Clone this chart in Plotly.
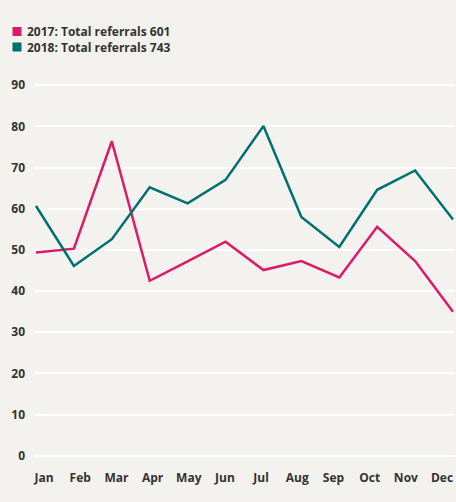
import plotly.graph_objects as go

months = ["Jan", "Feb", "Mar", "Apr", "May", "Jun", "Jul", "Aug", "Sep", "Oct", "Nov", "Dec"]
referrals_2017 = [49.4, 50.3, 76.4, 42.5, 47.2, 52.0, 45.1, 47.3, 43.3, 55.6, 47.3, 35.0]
referrals_2018 = [60.7, 46.1, 52.6, 65.2, 61.3, 67.0, 80.1, 58.0, 50.7, 64.6, 69.3, 57.4]
legend_labels = ["2017: Total referrals 601", "2018: Total referrals 743"]
y_ticks = [0, 10, 20, 30, 40, 50, 60, 70, 80, 90]

PINK = "#dc1a6a"
TEAL = "#00706e"
BG = "#f3f2ee"
TXT = "#333333"
FONT = "Open Sans"
idx = list(range(len(months)))

fig = go.Figure()
fig.add_trace(go.Scatter(x=idx, y=referrals_2017, mode="lines",
                         line=dict(color=PINK, width=2.5), name=legend_labels[0],
                         text=months, hovertemplate="%{text}: %{y}<extra></extra>",
                         showlegend=False))
fig.add_trace(go.Scatter(x=idx, y=referrals_2018, mode="lines",
                         line=dict(color=TEAL, width=2.5), name=legend_labels[1],
                         text=months, hovertemplate="%{text}: %{y}<extra></extra>",
                         showlegend=False))
# carrier trace for the month label axis
fig.add_trace(go.Scatter(x=idx, y=[None] * len(idx), xaxis="x2", mode="lines",
                         hoverinfo="skip", showlegend=False))

# legend built from shapes + text annotations
for i, (lab, col) in enumerate(zip(legend_labels, [PINK, TEAL])):
    yc = 31.5 + 15.5 * i
    fig.add_shape(type="rect", xref="paper", yref="paper",
                  x0=(12.5 - 35) / 419, x1=(21.5 - 35) / 419,
                  y0=(464 - (yc + 4.5)) / 387, y1=(464 - (yc - 4.5)) / 387,
                  fillcolor=col, line=dict(width=0))
    fig.add_annotation(text=lab, xref="paper", yref="paper",
                       x=(25 - 35) / 419, y=(464 - yc) / 387,
                       xanchor="left", yanchor="middle", showarrow=False,
                       font=dict(family=FONT, size=12, color=TXT, weight=700))

tickfont = dict(family=FONT, size=12, color=TXT, weight=700)
fig.update_layout(
    width=456, height=502,
    margin=dict(l=35, r=2, t=77, b=38),
    paper_bgcolor=BG, plot_bgcolor=BG,
    font=dict(family=FONT, size=12, color=TXT, weight=700),
    xaxis=dict(range=[-0.026, 11.026], showgrid=False, zeroline=False,
               showline=False, ticks="", showticklabels=False),
    xaxis2=dict(range=[-0.249, 11.33], overlaying="x", anchor="y", side="bottom",
                tickvals=idx, ticktext=months, showgrid=False, zeroline=False,
                showline=False, ticks="", ticklabelstandoff=5, tickfont=tickfont),
    yaxis=dict(range=[-2, 92], tickvals=y_ticks, showgrid=True,
               gridcolor="white", gridwidth=2, zeroline=False, showline=False,
               ticks="", ticklabelstandoff=9, tickfont=tickfont),
    showlegend=False,
)

fig.write_html(
    "out.html",
    config={"displayModeBar": False},
    post_script="document.body.style.margin='0';document.body.style.overflow='hidden';"
                "document.body.style.background='" + BG + "';",
)
